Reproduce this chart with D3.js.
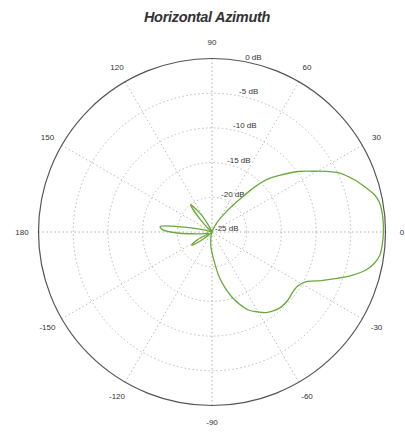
<!DOCTYPE html>
<html>
<head>
<meta charset="utf-8">
<script src="https://cdn.jsdelivr.net/npm/d3@7"></script>
<style>
  html, body { margin: 0; padding: 0; background: #fff; }
  svg { display: block; }
</style>
</head>
<body>
<svg id="chart" width="405" height="435"></svg>
<script>
// Horizontal azimuth radiation pattern (angle in degrees, gain in dB)
const titleText = "Horizontal Azimuth";

const patternAngles = [
  -180, -170, -160, -152, -147, -142, -135, -120, -105, -95, -90, -85, -81, -77,
  -73, -69, -65, -60, -56, -51, -47, -42, -37, -32, -28, -24, -20, -17, -14,
  -11, -8, -4, 0, 5, 10, 13, 16, 20, 25, 28, 31, 35, 40, 44, 47, 50, 55, 60,
  70, 85, 100, 115, 122, 128, 133, 140, 155, 165, 170, 174, 177
];
const patternGains = [
  -19, -23.5, -24.5, -22.5, -21.5, -23, -24.8, -25, -24.5, -23, -22, -20.5, -18.5, -16.8,
  -15.2, -13.8, -12.6, -11.7, -11.0, -10.5, -10.3, -10.3, -10.5, -10.4, -9.7, -7.8, -5.6, -3.8, -2.2,
  -1.2, -0.6, -0.4, -0.3, -0.3, -0.5, -1.0, -1.9, -3.1, -4.8, -6.4, -8.0, -9.8, -12.3, -14.2, -16.5, -19, -21.5, -23,
  -24.6, -25, -25, -24.5, -22, -20, -22.5, -24.8, -25, -24, -21, -17.5, -17.8
];

const ringLevels = [0, -5, -10, -15, -20, -25];
const ringLabels = ["0 dB", "-5 dB", "-10 dB", "-15 dB", "-20 dB", "-25 dB"];
const spokeAngles = [0, 30, 60, 90, 120, 150, 180, -150, -120, -90, -60, -30];
const spokeLabels = ["0", "30", "60", "90", "120", "150", "180", "-150", "-120", "-90", "-60", "-30"];

const svg = d3.select("#chart");
const cx = 212, cy = 232, R = 173.5;

const r = d3.scaleLinear().domain([-25, 0]).range([0, R]).clamp(true);
// degrees (0 = right, counter-clockwise) -> d3 radial angle (0 = up, clockwise)
const toRad = d => (90 - d) * Math.PI / 180;

svg.append("text")
  .attr("x", 207).attr("y", 22)
  .attr("text-anchor", "middle")
  .attr("font-family", "Liberation Sans, Arial, sans-serif")
  .attr("font-size", 14.5).attr("font-weight", "bold").attr("font-style", "italic")
  .attr("letter-spacing", -0.3)
  .attr("fill", "#333")
  .text(titleText);

const g = svg.append("g").attr("transform", `translate(${cx},${cy})`);

// dotted inner rings
g.selectAll("circle.ring")
  .data(ringLevels.filter(v => v > -25 && v < 0))
  .join("circle")
  .attr("class", "ring")
  .attr("r", d => r(d))
  .attr("fill", "none")
  .attr("stroke", "#aaa")
  .attr("stroke-width", 0.8)
  .attr("stroke-dasharray", "1.5,2.5");

// dotted spokes
g.selectAll("line.spoke")
  .data(spokeAngles)
  .join("line")
  .attr("class", "spoke")
  .attr("x1", 0).attr("y1", 0)
  .attr("x2", d => R * Math.cos(d * Math.PI / 180))
  .attr("y2", d => -R * Math.sin(d * Math.PI / 180))
  .attr("stroke", d => (d % 90 === 0 ? "#999" : "#aaa"))
  .attr("stroke-width", 0.8)
  .attr("stroke-dasharray", "1.5,2.5");

// outer boundary
g.append("circle")
  .attr("r", R)
  .attr("fill", "none")
  .attr("stroke", "#555")
  .attr("stroke-width", 1.2);

// angle labels
g.selectAll("text.ang")
  .data(spokeAngles)
  .join("text")
  .attr("class", "ang")
  .attr("x", d => 190 * Math.cos(d * Math.PI / 180))
  .attr("y", d => -190 * Math.sin(d * Math.PI / 180))
  .attr("dy", "0.35em")
  .attr("text-anchor", "middle")
  .attr("font-family", "Liberation Sans, Arial, sans-serif")
  .attr("font-size", 8)
  .attr("fill", "#333")
  .text((d, i) => spokeLabels[i]);

// dB labels along the upper axis
const labA = 80 * Math.PI / 180;
g.selectAll("text.db")
  .data(ringLevels)
  .join("text")
  .attr("class", "db")
  .attr("x", d => r(d) * Math.cos(labA) + 3)
  .attr("y", d => -r(d) * Math.sin(labA) - 1)
  .attr("font-family", "Liberation Sans, Arial, sans-serif")
  .attr("font-size", 8)
  .attr("fill", "#333")
  .text((d, i) => ringLabels[i]);

// pattern trace
const pts = patternAngles.map((a, i) => [toRad(a), r(patternGains[i])]);
const line = d3.lineRadial()
  .angle(d => d[0])
  .radius(d => d[1])
  .curve(d3.curveCatmullRomClosed.alpha(0.5));

g.append("path")
  .attr("d", line(pts))
  .attr("fill", "none")
  .attr("stroke", "#6aaa3a")
  .attr("stroke-width", 1.3);
</script>
</body>
</html>
